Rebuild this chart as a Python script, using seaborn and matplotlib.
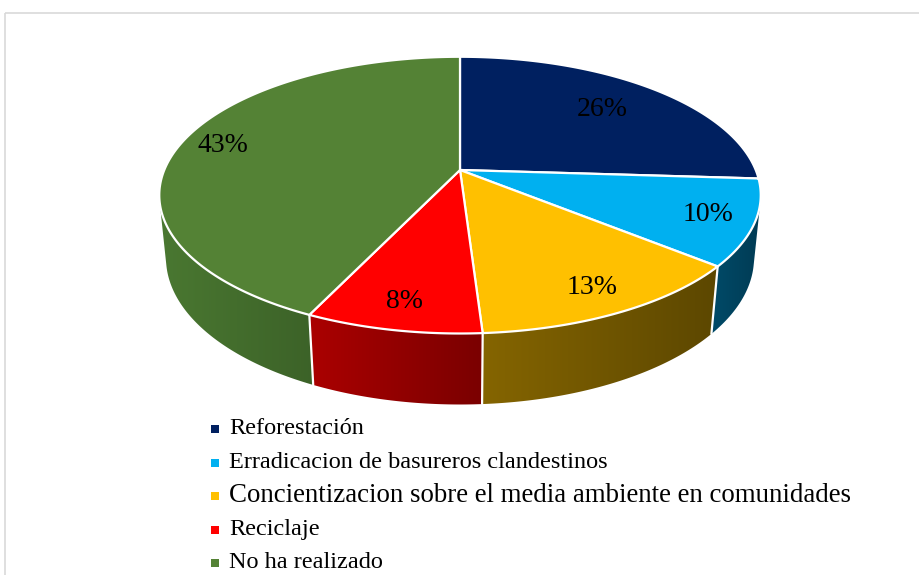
import numpy as np
import matplotlib

matplotlib.use("Agg")
import matplotlib.pyplot as plt  # noqa: E402
from matplotlib import font_manager  # noqa: E402
from matplotlib.patches import Polygon, Rectangle  # noqa: E402
import seaborn as sns  # noqa: E402

# --- data ---
categories = [
    "Reforestación",
    "Erradicacion de basureros clandestinos",
    "Concientizacion sobre el media ambiente en comunidades",
    "Reciclaje",
    "No ha realizado",
]
shares = [26, 10, 13, 8, 43]
pct_labels = ["26%", "10%", "13%", "8%", "43%"]

# --- styles ---
top_colors = ["#002060", "#00B0F0", "#FFC000", "#FF0000", "#548235"]
side_colors = [
    ("#00173f", "#000e2a"),
    ("#004b69", "#003b54"),
    ("#856500", "#5c4700"),
    ("#ab0000", "#7a0000"),
    ("#4a7831", "#3c6228"),
]
label_r = [0.72, 0.85, 0.85, 0.85, 0.85]
legend_sizes = [17.5, 17.5, 19.4, 17.5, 17.5]

# simple perspective camera for the 3D pie
CX, CY = 460, 170
F = 1452
D = 4.91
ALPHA = np.radians(26.9)
THICK = 0.24


def project(theta, r=1.0, h=0.0):
    x = r * np.cos(theta)
    z = r * np.sin(theta)
    up = h * np.cos(ALPHA) + z * np.sin(ALPHA)
    depth = D + z * np.cos(ALPHA) - h * np.sin(ALPHA)
    return CX + F * x / depth, CY - F * up / depth


def serif_font():
    names = {f.name for f in font_manager.fontManager.ttflist}
    for cand in ["Liberation Serif", "Times New Roman", "Nimbus Roman", "DejaVu Serif"]:
        if cand in names:
            return cand
    return "serif"


sns.set_theme(style="white")
FONT = serif_font()
plt.rcParams["font.family"] = [FONT, "DejaVu Serif"]

fig = plt.figure(figsize=(9.2, 5.75), dpi=100)
ax = fig.add_axes([0, 0, 1, 1])
ax.axis("off")

# chart frame
ax.add_patch(Rectangle((5.5, 12.5), 1000, 1000, fill=False, edgecolor="#d9d9d9", lw=1.2, zorder=0))

palette = sns.color_palette(top_colors)
cum = np.cumsum([0] + shares)
edges = np.radians(90 - 360 * cum / sum(shares))
vis_limit = -1.0 / (D * np.cos(ALPHA))

# side walls with a left-to-right shading gradient
for i in range(len(shares)):
    a0, a1 = edges[i], edges[i + 1]
    thetas = np.linspace(a0, a1, 400)
    thetas = thetas[np.sin(thetas) < vis_limit]
    if len(thetas) < 2:
        continue
    top_pts = [project(t) for t in thetas]
    bot_pts = [project(t, h=-THICK) for t in thetas[::-1]]
    poly = Polygon(top_pts + bot_pts, closed=True, facecolor="none", edgecolor="none")
    ax.add_patch(poly)
    xs = [p[0] for p in top_pts + bot_pts]
    ys = [p[1] for p in top_pts + bot_pts]
    c0 = np.array(matplotlib.colors.to_rgb(side_colors[i][0]))
    c1 = np.array(matplotlib.colors.to_rgb(side_colors[i][1]))
    grad = np.linspace(0, 1, 256)[:, None] * (c1 - c0) + c0
    img = ax.imshow(grad[None, :, :], extent=[min(xs) - 1, max(xs) + 1, max(ys) + 1, min(ys) - 1],
                    aspect="auto", interpolation="bilinear", zorder=1)
    img.set_clip_path(poly)

# white separators on the side wall
for e in edges:
    if np.sin(e) < vis_limit:
        p0 = project(e)
        p1 = project(e, h=-THICK)
        ax.plot([p0[0], p1[0]], [p0[1], p1[1]], color="white", lw=1.6, zorder=2)

# top face wedges
for i in range(len(shares)):
    a0, a1 = edges[i], edges[i + 1]
    thetas = np.linspace(a0, a1, 200)
    pts = [(CX, CY)] + [project(t) for t in thetas]
    ax.add_patch(Polygon(pts, closed=True, facecolor=palette[i], edgecolor="white", lw=1.6, zorder=3,
                         joinstyle="round"))
    mid = (a0 + a1) / 2
    lx, ly = project(mid, r=label_r[i])
    ax.text(lx, ly, pct_labels[i], ha="center", va="center", fontsize=20, color="black", zorder=4)

# legend
for i, cat in enumerate(categories):
    y = 429 + i * 33.5
    ax.scatter(215, y, marker="s", s=26, color=palette[i], linewidths=0, zorder=4)
    ax.text(229, y, cat, ha="left", va="center", fontsize=legend_sizes[i], color="black", zorder=4)

ax.set_xlim(0, 920)
ax.set_ylim(575, 0)

fig.savefig("out.png", dpi=100)
